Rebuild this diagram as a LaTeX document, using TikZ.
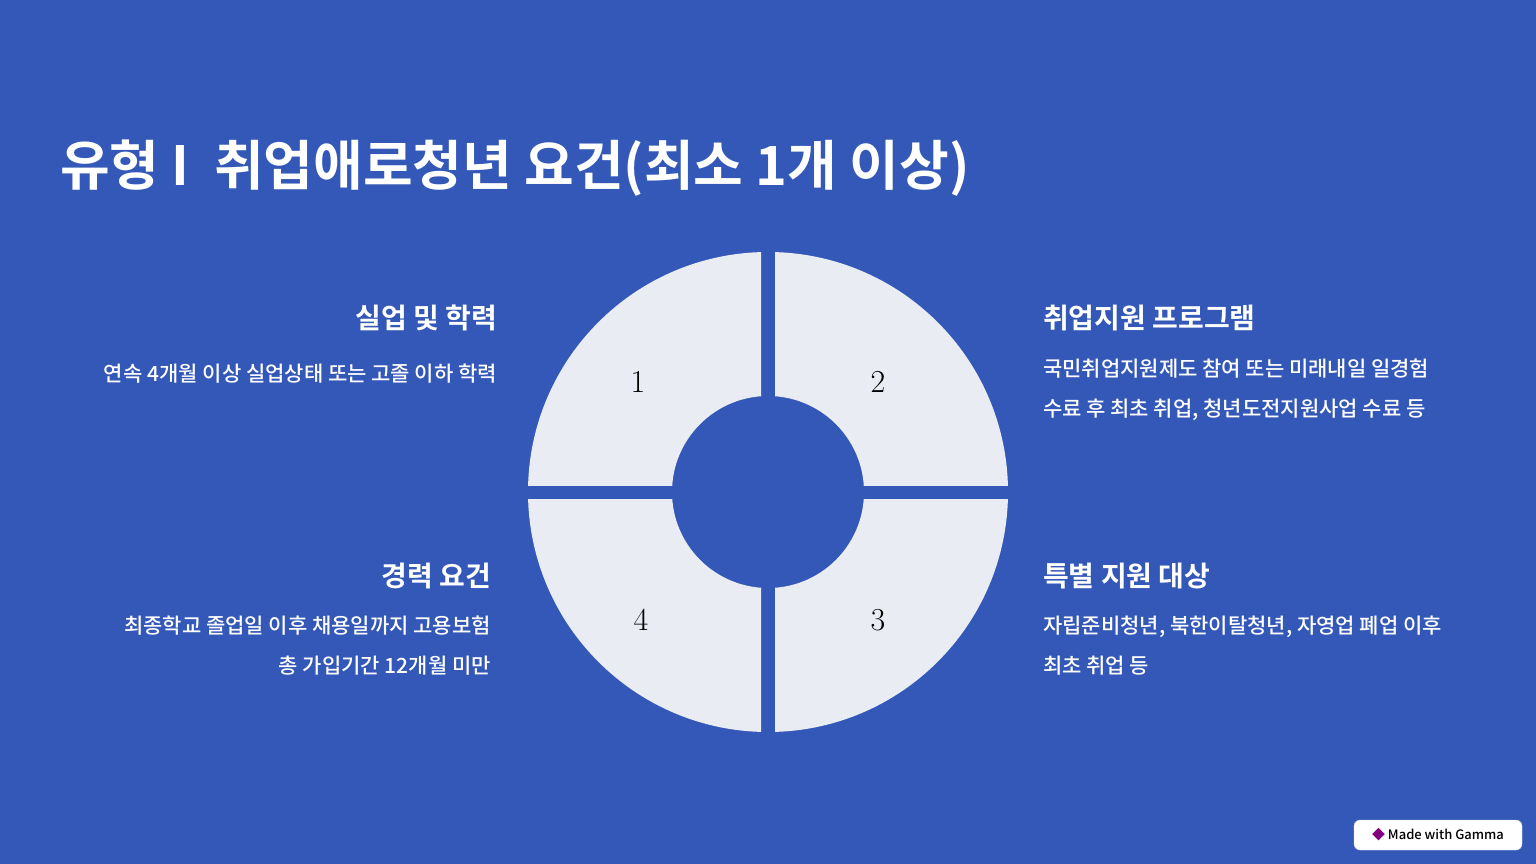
\documentclass[tikz,border=0pt]{standalone}
\usepackage{fontspec}
\usetikzlibrary{calc}
\newfontfamily\krbold{Noto Sans CJK KR Bold}
\newfontfamily\krmed{Noto Sans CJK KR Medium}
\definecolor{bgblue}{HTML}{3358B8}
\definecolor{ringgray}{HTML}{E9ECF3}
\tikzset{
  heading/.style={text=white, font=\krbold\fontsize{28}{32}\selectfont, inner sep=0pt},
  body/.style={text=white, font=\krmed\fontsize{21}{40}\selectfont, inner sep=0pt},
  num/.style={font=\fontsize{32}{36}\selectfont, inner sep=0pt}
}
\begin{document}
\begin{tikzpicture}[x=1pt,y=-1pt]
  \fill[bgblue] (0,0) rectangle (1536,864);
  \useasboundingbox (0,0) rectangle (1536,864);

  % title
  \node[anchor=west, text=white, font=\krbold\fontsize{54}{60}\selectfont, inner sep=0pt] (title) at (60,168) {유형 I \ 취업애로청년 요건(최소 1개 이상)};

  % ring quadrants
  \coordinate (c) at (768,492);
  \foreach \qx/\qy in {-1/-1, 1/-1, 1/1, -1/1} {
    \begin{scope}
      \clip ($(c)+(\qx*7,\qy*7)$) rectangle ($(c)+(\qx*260,\qy*260)$);
      \fill[ringgray, even odd rule] (c) circle (240) (c) circle (96);
    \end{scope}
  }
  \node[num] (n1) at (638,382) {1};
  \node[num] (n2) at (878,382) {2};
  \node[num] (n3) at (878,620) {3};
  \node[num] (n4) at (641,620) {4};

  % left side
  \node[heading, anchor=east] (h1) at (497,318) {실업 및 학력};
  \node[body, anchor=east] (b1) at (497,374) {연속 4개월 이상 실업상태 또는 고졸 이하 학력};
  \node[heading, anchor=east] (h4) at (491,576) {경력 요건};
  \node[body, anchor=north east, align=right] (b4) at (491,616) {최종학교 졸업일 이후 채용일까지 고용보험\\총 가입기간 12개월 미만};

  % right side
  \node[heading, anchor=west] (h2) at (1043,318) {취업지원 프로그램};
  \node[body, anchor=north west, align=left] (b2) at (1043,359) {국민취업지원제도 참여 또는 미래내일 일경험\\수료 후 최초 취업, 청년도전지원사업 수료 등};
  \node[heading, anchor=west] (h3) at (1043,576) {특별 지원 대상};
  \node[body, anchor=north west, align=left] (b3) at (1043,616) {자립준비청년, 북한이탈청년, 자영업 폐업 이후\\최초 취업 등};

  % badge
  \node[fill=white, rounded corners=6pt, draw=gray!30, minimum width=168, minimum height=30, font=\krmed\fontsize{13}{15}\selectfont] (badge) at (1438,835) {\textcolor{violet}{\krbold ◆}\ Made with Gamma};
\end{tikzpicture}
\end{document}
